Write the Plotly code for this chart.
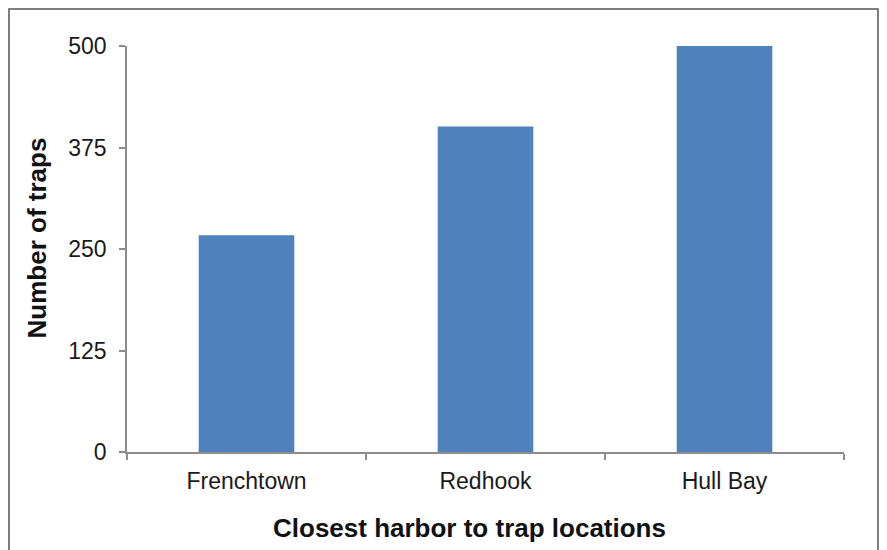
import plotly.graph_objects as go

categories = ["Frenchtown", "Redhook", "Hull Bay"]
traps = [267, 401, 500]
y_ticks = [0, 125, 250, 375, 500]
x_title = "Closest harbor to trap locations"
y_title = "Number of traps"

FONT = "Liberation Sans, Arial, sans-serif"

fig = go.Figure(
    go.Bar(x=categories, y=traps, marker=dict(color="#4F81BD", line=dict(width=0)))
)

fig.update_layout(
    width=879,
    height=542,
    margin=dict(l=119, r=43, t=38, b=98),
    paper_bgcolor="white",
    plot_bgcolor="white",
    bargap=0.6,
    showlegend=False,
    font=dict(family=FONT, size=23, color="#1a1a1a"),
    xaxis=dict(
        type="category",
        showline=True,
        linecolor="#8c8c8c",
        linewidth=1.5,
        ticks="outside",
        tickson="boundaries",
        ticklen=6,
        tickcolor="#8c8c8c",
        tickwidth=1.5,
        ticklabelstandoff=8,
        showgrid=False,
        zeroline=False,
        tickfont=dict(family=FONT, size=23, color="#1a1a1a"),
    ),
    yaxis=dict(
        range=[0, 500],
        tickvals=y_ticks,
        showline=True,
        linecolor="#8c8c8c",
        linewidth=1.5,
        ticks="outside",
        ticklen=6,
        tickcolor="#8c8c8c",
        tickwidth=1.5,
        ticklabelstandoff=8,
        showgrid=False,
        zeroline=False,
        tickfont=dict(family=FONT, size=23, color="#1a1a1a"),
    ),
    annotations=[
        dict(
            text=f"<b>{x_title}</b>",
            xref="paper", yref="paper",
            x=0.4777, y=-0.187,
            xanchor="center", yanchor="middle",
            showarrow=False,
            font=dict(family=FONT, size=26, color="#111111"),
        ),
        dict(
            text=f"<b>{y_title}</b>",
            xref="paper", yref="paper",
            x=-0.1255, y=0.526,
            xanchor="center", yanchor="middle",
            textangle=-90,
            showarrow=False,
            font=dict(family=FONT, size=26, color="#111111"),
        ),
    ],
    shapes=[
        dict(
            type="rect",
            xref="paper", yref="paper",
            x0=-0.1646, x1=1.0474, y0=-0.26, y1=1.0911,
            line=dict(color="#555555", width=1.5),
            fillcolor="rgba(0,0,0,0)",
            layer="below",
        )
    ],
)

fig.write_html("out.html")
